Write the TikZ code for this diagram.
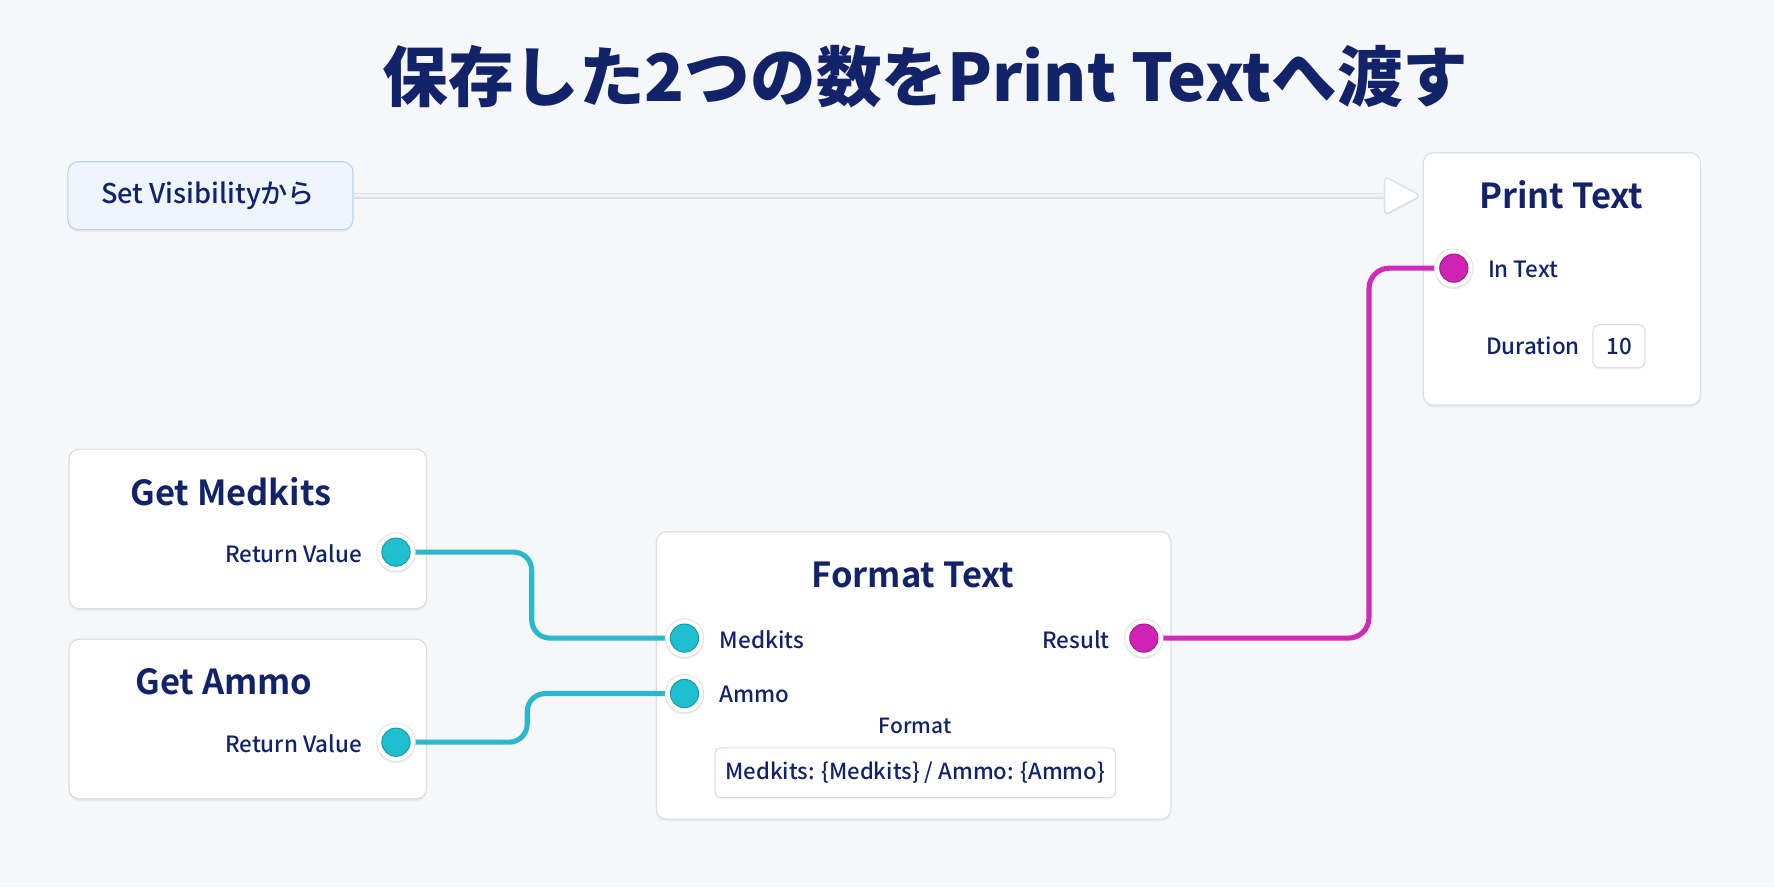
\documentclass[tikz,border=0pt]{standalone}
\usepackage{fontspec}
\setmainfont{Noto Sans CJK JP}[BoldFont={Noto Sans CJK JP Bold}]
\IfFontExistsTF{Noto Sans CJK JP Medium}{\newfontfamily\medfont{Noto Sans CJK JP Medium}}{\newfontfamily\medfont{Noto Sans CJK JP}}
\IfFontExistsTF{Noto Sans CJK JP Black}{\newfontfamily\blackfont{Noto Sans CJK JP Black}}{\newfontfamily\blackfont{Noto Sans CJK JP Bold}}
\usetikzlibrary{shadows,shapes.geometric}
\definecolor{bg}{HTML}{F6F7F9}
\definecolor{navy}{HTML}{12236A}
\definecolor{boxline}{HTML}{DCDEE3}
\definecolor{cyanpin}{HTML}{1EC0CF}
\definecolor{cyanedge}{HTML}{1497A6}
\definecolor{cyanwire}{HTML}{2BB8CC}
\definecolor{magpin}{HTML}{D022B4}
\definecolor{magedge}{HTML}{A0188A}
\definecolor{magwire}{HTML}{D12AB8}
\definecolor{execbg}{HTML}{EEF5FC}
\definecolor{execline}{HTML}{B9D3EC}
\definecolor{execgray}{HTML}{DDE0E4}
\definecolor{execinner}{HTML}{F1F2F4}
\begin{document}
\begin{tikzpicture}[x=1pt,y=-1pt,
  card/.style={draw=boxline, line width=1pt, fill=white, rounded corners=9pt,
    drop shadow={opacity=0.10,shadow xshift=0pt,shadow yshift=-2pt}},
  ttl/.style={font=\bfseries\fontsize{30.5}{34}\selectfont, text=navy, inner sep=0pt},
  lbl/.style={font=\medfont\fontsize{19.8}{24}\selectfont, text=navy, inner sep=0pt},
  pinring/.style={circle, fill=white, draw=gray!22, line width=0.8pt, minimum size=34pt, inner sep=0pt,
    drop shadow={opacity=0.15,shadow xshift=0pt,shadow yshift=-1.5pt}},
  pindot/.style={circle, fill=#1, minimum size=25pt, inner sep=0pt},
  cwire/.style={draw=cyanwire, line width=4.5pt, rounded corners=16pt},
  mwire/.style={draw=magwire, line width=4.5pt, rounded corners=18pt},
  valbox/.style={draw=boxline, line width=1pt, fill=white, rounded corners=5pt,
    drop shadow={opacity=0.08,shadow xshift=0pt,shadow yshift=-1.5pt}, inner sep=0pt}
]
\fill[bg] (0,0) rectangle (1568,784);

% title
\node[font=\blackfont\fontsize{58}{64}\selectfont, text=navy, inner sep=0pt] (title) at (818,68) {保存した2つの数をPrint Textへ渡す};

% cards
\node[card, minimum width=252pt, minimum height=60pt, fill=execbg, draw=execline] (sv) at (186,173) {};
\node[lbl, font=\medfont\fontsize{24}{28}\selectfont] (svt) at (184,173) {Set Visibilityから};

\node[card, minimum width=245pt, minimum height=223pt] (pt) at (1380.5,246.5) {};
\node[card, minimum width=316pt, minimum height=141pt] (gm) at (219,467.5) {};
\node[card, minimum width=316pt, minimum height=141pt] (ga) at (219,635.5) {};
\node[card, minimum width=455pt, minimum height=254pt] (ft) at (807.5,597) {};

% exec connector
\node[isosceles triangle, isosceles triangle stretches, draw=execgray, line width=1.2pt, fill=white,
  minimum width=34pt, minimum height=32pt, inner sep=0pt, rounded corners=4pt] (arr) at (1234,173) {};
\draw[execgray, line width=5pt] (sv.east) -- (arr.west);
\draw[execinner, line width=2.5pt] (sv.east) -- (arr.west);
\node[isosceles triangle, isosceles triangle stretches, draw=execgray, line width=1.2pt, fill=white,
  minimum width=34pt, minimum height=32pt, inner sep=0pt, rounded corners=4pt,
  drop shadow={opacity=0.12,shadow xshift=0pt,shadow yshift=-1.5pt}] (arrhead) at (arr.center) {};

% titles
\node[ttl] (ptt) at (1380,172) {Print Text};
\node[ttl] (gmt) at (204,435) {Get Medkits};
\node[ttl] (gat) at (198,603) {Get Ammo};
\node[ttl] (ftt) at (807,508) {Format Text};

% labels
\node[lbl, anchor=west] (intext) at (1315,238) {In Text};
\node[lbl] (dur) at (1355,306) {Duration};
\node[valbox, minimum width=46pt, minimum height=38pt, lbl] (durv) at (1431,306) {10};
\node[lbl, anchor=east] (gmrv) at (320,489) {Return Value};
\node[lbl, anchor=east] (garv) at (320,657) {Return Value};
\node[lbl, anchor=west] (fmk) at (636,565) {Medkits};
\node[lbl, anchor=west] (fam) at (636,614) {Ammo};
\node[lbl, anchor=east] (fres) at (981,565) {Result};
\node[lbl, font=\medfont\fontsize{18.5}{22}\selectfont] (ffmt) at (809,642) {Format};
\node[valbox, minimum width=354pt, minimum height=44pt, lbl, font=\medfont\fontsize{19.5}{23}\selectfont] (fbox) at (809,683) {Medkits: \{Medkits\} / Ammo: \{Ammo\}};

% pin positions
\coordinate (gmp) at (350,488);
\coordinate (gap) at (350,656);
\coordinate (fmp) at (605,564);
\coordinate (fap) at (605,613);
\coordinate (frp) at (1011,564);
\coordinate (ptp) at (1285,237);
\coordinate (mx) at (470,0);
\coordinate (ax) at (466,0);
\coordinate (rx) at (1210,0);

% wires
\draw[cwire] (gmp) -- (gmp -| mx) -- (fmp -| mx) -- (fmp);
\draw[cwire] (gap) -- (gap -| ax) -- (fap -| ax) -- (fap);
\draw[mwire] (frp) -- (frp -| rx) -- (ptp -| rx) -- (ptp);

% pins
\node[pinring] (gmring) at (gmp) {};
\node[pindot=cyanpin, draw=cyanedge, line width=0.8pt] (gmpin) at (gmp) {};
\node[pinring] (garing) at (gap) {};
\node[pindot=cyanpin, draw=cyanedge, line width=0.8pt] (gapin) at (gap) {};
\node[pinring] (fmring) at (fmp) {};
\node[pindot=cyanpin, draw=cyanedge, line width=0.8pt] (fmpin) at (fmp) {};
\node[pinring] (faring) at (fap) {};
\node[pindot=cyanpin, draw=cyanedge, line width=0.8pt] (fapin) at (fap) {};
\node[pinring] (frring) at (frp) {};
\node[pindot=magpin, draw=magedge, line width=0.8pt] (frpin) at (frp) {};
\node[pinring] (ptring) at (ptp) {};
\node[pindot=magpin, draw=magedge, line width=0.8pt] (ptpin) at (ptp) {};
\end{tikzpicture}
\end{document}
